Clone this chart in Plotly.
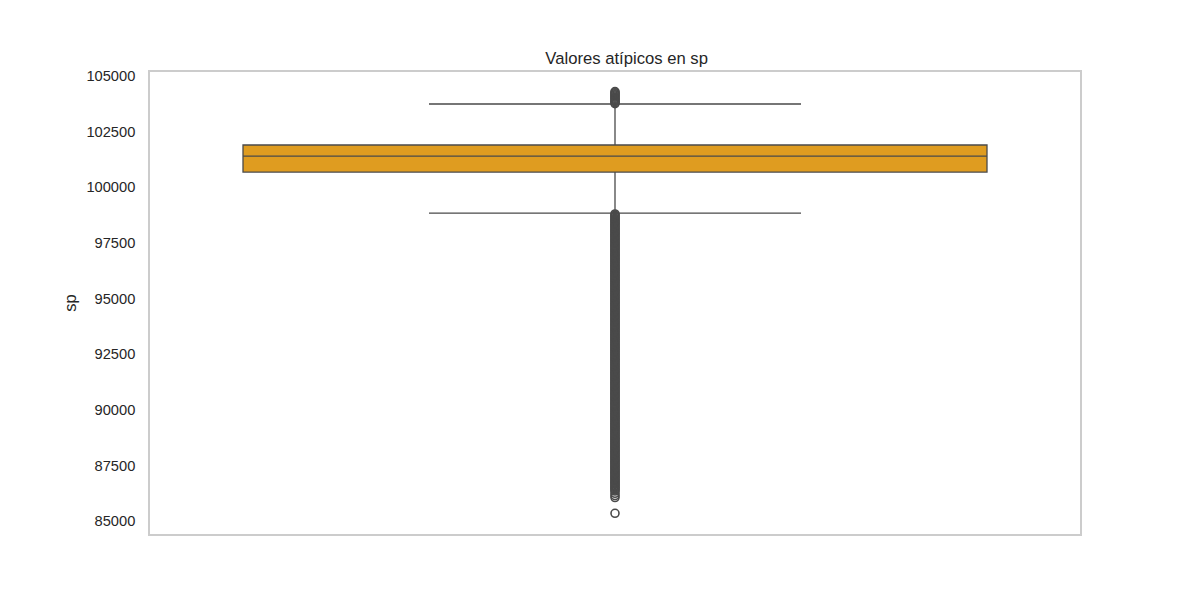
import plotly.graph_objects as go

# ---- data ----
title_text = "Valores atípicos en sp"
y_label = "sp"
q1 = [100685]
median = [101404]
q3 = [101899]
lower_fence = [98843]
upper_fence = [103742]

upper_outliers = [103760, 103800, 103850, 103900, 103950, 104000, 104050,
                  104100, 104150, 104200, 104250, 104300]

lower_outliers = [
    98800, 98750, 98700, 98650, 98600, 98550, 98500, 98450, 98400, 98350,
    98300, 98250, 98200, 98150, 98100, 98050, 98000, 97950, 97900, 97850,
    97800, 97750, 97700, 97650, 97600, 97550, 97500, 97450, 97400, 97350,
    97300, 97250, 97200, 97150, 97100, 97050, 97000, 96950, 96900, 96850,
    96800, 96750, 96700, 96650, 96600, 96550, 96500, 96450, 96400, 96350,
    96300, 96250, 96200, 96150, 96100, 96050, 96000, 95950, 95900, 95850,
    95800, 95750, 95700, 95650, 95600, 95550, 95500, 95450, 95400, 95350,
    95300, 95250, 95200, 95150, 95100, 95050, 95000, 94950, 94900, 94850,
    94800, 94750, 94700, 94650, 94600, 94550, 94500, 94450, 94400, 94350,
    94300, 94250, 94200, 94150, 94100, 94050, 94000, 93950, 93900, 93850,
    93800, 93750, 93700, 93650, 93600, 93550, 93500, 93450, 93400, 93350,
    93300, 93250, 93200, 93150, 93100, 93050, 93000, 92950, 92900, 92850,
    92800, 92750, 92700, 92650, 92600, 92550, 92500, 92450, 92400, 92350,
    92300, 92250, 92200, 92150, 92100, 92050, 92000, 91950, 91900, 91850,
    91800, 91750, 91700, 91650, 91600, 91550, 91500, 91450, 91400, 91350,
    91300, 91250, 91200, 91150, 91100, 91050, 91000, 90950, 90900, 90850,
    90800, 90750, 90700, 90650, 90600, 90550, 90500, 90450, 90400, 90350,
    90300, 90250, 90200, 90150, 90100, 90050, 90000, 89950, 89900, 89850,
    89800, 89750, 89700, 89650, 89600, 89550, 89500, 89450, 89400, 89350,
    89300, 89250, 89200, 89150, 89100, 89050, 89000, 88950, 88900, 88850,
    88800, 88750, 88700, 88650, 88600, 88550, 88500, 88450, 88400, 88350,
    88300, 88250, 88200, 88150, 88100, 88050, 88000, 87950, 87900, 87850,
    87800, 87750, 87700, 87650, 87600, 87550, 87500, 87450, 87400, 87350,
    87300, 87250, 87200, 87150, 87100, 87050, 87000, 86950, 86900, 86850,
    86800, 86750, 86700, 86650, 86600, 86550, 86500, 86450, 86400, 86350,
    86250, 86150, 86060,
    85350,
]

y_tickvals = [85000, 87500, 90000, 92500, 95000, 97500, 100000, 102500, 105000]
y_ticktext = ["85000", "87500", "90000", "92500", "95000", "97500",
              "100000", "102500", "105000"]

# ---- styles ----
box_fill = "#DF9C20"
line_col = "#4a4a4a"
text_col = "#262626"
frame_col = "#cccccc"
font_family = "Liberation Sans, Arial, sans-serif"

fig = go.Figure()

fig.add_trace(go.Box(
    x=[0],
    q1=q1, median=median, q3=q3,
    lowerfence=lower_fence, upperfence=upper_fence,
    width=0.8,
    whiskerwidth=0.5,
    fillcolor=box_fill,
    line=dict(color=line_col, width=1.3),
    boxpoints=False,
    showlegend=False,
    hoverinfo="skip",
))

all_out = upper_outliers + lower_outliers
fig.add_trace(go.Scatter(
    x=[0] * len(all_out),
    y=all_out,
    mode="markers",
    marker=dict(symbol="circle-open", size=8, color=line_col,
                line=dict(color=line_col, width=1.6)),
    showlegend=False,
    hoverinfo="skip",
))

fig.update_layout(
    width=1200, height=600,
    margin=dict(l=150, r=120, t=72, b=66),
    paper_bgcolor="white",
    plot_bgcolor="white",
    font=dict(family=font_family, color=text_col, size=14.67),
    title=dict(
        text=title_text,
        x=615 / 1200, xanchor="center", xref="paper",
        y=1 - 64 / 600, yanchor="bottom", yref="container",
        font=dict(size=16.67, color=text_col, family=font_family),
        pad=dict(b=0, t=0),
    ),
    xaxis=dict(
        range=[-0.5, 0.5],
        showticklabels=False,
        ticks="",
        showgrid=False,
        zeroline=False,
        showline=True, linecolor=frame_col, linewidth=1.5, mirror=True,
    ),
    yaxis=dict(
        range=[84420, 105180],
        tickvals=y_tickvals,
        ticktext=y_ticktext,
        ticks="",
        ticklabelstandoff=10,
        showgrid=False,
        zeroline=False,
        showline=True, linecolor=frame_col, linewidth=1.5, mirror=True,
        title=dict(text=y_label, font=dict(size=16.67, color=text_col), standoff=6),
        tickfont=dict(size=14.67, color=text_col),
    ),
)

fig.write_html("out.html")
